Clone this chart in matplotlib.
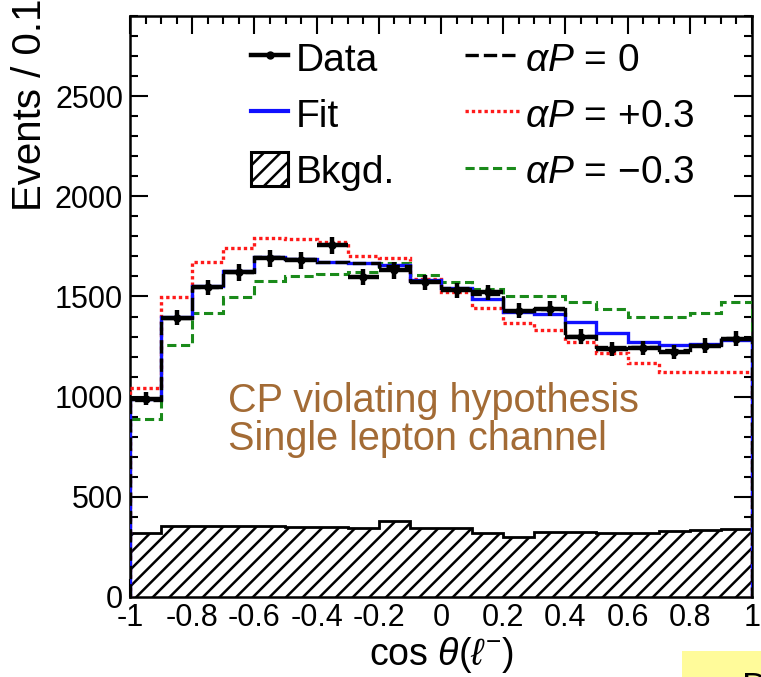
import numpy as np
import matplotlib
matplotlib.use("Agg")
import matplotlib.pyplot as plt
from matplotlib.lines import Line2D
from matplotlib.patches import Patch, Rectangle

plt.rcParams['font.family'] = ['Liberation Sans', 'DejaVu Sans']
plt.rcParams['mathtext.fontset'] = 'custom'
plt.rcParams['mathtext.rm'] = 'Liberation Sans'
plt.rcParams['mathtext.it'] = 'Liberation Sans:italic'
plt.rcParams['axes.unicode_minus'] = False
plt.rcParams['hatch.linewidth'] = 1.8

# ---- data (20 bins of width 0.1 in cos theta) ----
bin_edges = [-1.0, -0.9, -0.8, -0.7, -0.6, -0.5, -0.4, -0.3, -0.2, -0.1, 0.0,
             0.1, 0.2, 0.3, 0.4, 0.5, 0.6, 0.7, 0.8, 0.9, 1.0]
data = [990, 1395, 1545, 1620, 1690, 1680, 1755, 1595, 1630, 1570,
        1530, 1520, 1430, 1440, 1300, 1240, 1245, 1225, 1255, 1290]
fit = [990, 1400, 1550, 1625, 1695, 1685, 1670, 1665, 1655, 1580,
       1540, 1485, 1425, 1415, 1375, 1320, 1275, 1260, 1265, 1285]
alpha_p0 = [985, 1395, 1545, 1620, 1695, 1685, 1670, 1665, 1650, 1575,
            1540, 1510, 1430, 1440, 1305, 1250, 1250, 1235, 1260, 1295]
alpha_pp = [1045, 1495, 1670, 1740, 1790, 1785, 1770, 1700, 1690, 1585,
            1520, 1445, 1370, 1335, 1275, 1220, 1170, 1125, 1125, 1125]
alpha_pm = [890, 1260, 1420, 1495, 1575, 1600, 1610, 1620, 1665, 1605,
            1570, 1535, 1500, 1500, 1470, 1440, 1400, 1400, 1420, 1470]
bkgd = [320, 355, 355, 355, 352, 350, 350, 345, 380, 345,
        345, 320, 300, 325, 325, 320, 320, 330, 335, 340]

x_ticks = [-1, -0.8, -0.6, -0.4, -0.2, 0, 0.2, 0.4, 0.6, 0.8, 1]
x_ticklabels = ['-1', '-0.8', '-0.6', '-0.4', '-0.2', '0', '0.2', '0.4', '0.6', '0.8', '1']
y_ticks = [0, 500, 1000, 1500, 2000, 2500]

edges = np.array(bin_edges)
centers = 0.5 * (edges[:-1] + edges[1:])
halfw = 0.5 * np.diff(edges)
data_arr = np.array(data, dtype=float)
data_err = np.sqrt(data_arr)

fig = plt.figure(figsize=(7.61, 6.77), dpi=100)
ax = fig.add_axes([130 / 761, 80 / 677, 622 / 761, 581 / 677])

# background (hatched)
ax.stairs(bkgd, edges, fill=True, facecolor='white', edgecolor='black',
          hatch='//', linewidth=0, zorder=2)
ax.stairs(bkgd, edges, color='black', linewidth=2.0, zorder=3)

# hypotheses
ax.stairs(alpha_pm, edges, color='#1a8a1a', linestyle=(0, (3, 1.5)), linewidth=2.2, zorder=4)
ax.stairs(alpha_pp, edges, color='#ff1a1a', linestyle=(0, (1, 0.9)), linewidth=2.4, zorder=4)
ax.stairs(fit, edges, color='#1010ff', linewidth=2.4, zorder=5)
ax.stairs(alpha_p0, edges, color='black', linestyle=(0, (4, 1.5)), linewidth=2.4, zorder=6)

# data
ax.errorbar(centers, data_arr, xerr=halfw, yerr=data_err, fmt='o', color='black',
            markersize=5, elinewidth=3.2, capsize=0, zorder=7)

ax.set_xlim(-1, 1)
ax.set_ylim(0, 2900)
ax.set_xticks(x_ticks)
ax.set_xticklabels(x_ticklabels)
ax.set_yticks(y_ticks)
ax.set_xticks(np.arange(-1, 1.0001, 0.05), minor=True)
ax.set_yticks(np.arange(0, 2901, 100), minor=True)
ax.tick_params(which='both', direction='in', top=True, right=True, width=1.5,
               labelsize=22, colors='black')
ax.tick_params(which='major', length=13, pad=5)
ax.tick_params(axis='x', which='major', pad=4)
ax.tick_params(which='minor', length=6)
for sp in ax.spines.values():
    sp.set_linewidth(1.8)

ax.set_xlabel(r'cos $\theta(\ell^{-})$', fontsize=27, labelpad=2)
ax.set_ylabel('Events / 0.1', fontsize=29, loc='top', labelpad=4)
ax.yaxis.set_label_coords(-0.16, 1.03, transform=ax.transAxes)
ax.yaxis.label.set_verticalalignment('center')

# legends
h_data = Line2D([], [], color='black', linewidth=3.2, marker='o', markersize=5)
h_fit = Line2D([], [], color='#1010ff', linewidth=3)
h_bkg = Patch(facecolor='white', edgecolor='black', hatch='//', linewidth=2.2)
leg1 = ax.legend([h_data, h_fit, h_bkg], ['Data', 'Fit', 'Bkgd.'],
                 loc='upper left', bbox_to_anchor=(0.195, 0.958), frameon=False,
                 fontsize=28, handlelength=0.95, handleheight=0.95, handletextpad=0.2,
                 labelspacing=0.46, borderaxespad=0, borderpad=0)
ax.add_artist(leg1)
h0 = Line2D([], [], color='black', linestyle=(0, (4, 1.5)), linewidth=2.4)
hp = Line2D([], [], color='#ff1a1a', linestyle=(0, (1, 0.9)), linewidth=2.4)
hm = Line2D([], [], color='#1a8a1a', linestyle=(0, (3, 1.5)), linewidth=2.2)
leg2 = ax.legend([h0, hp, hm],
                 [r'$\alpha P$ = 0', r'$\alpha P$ = +0.3', r'$\alpha P$ = $-$0.3'],
                 loc='upper left', bbox_to_anchor=(0.538, 0.958), frameon=False,
                 fontsize=28, handlelength=1.4, handleheight=0.95, handletextpad=0.15,
                 labelspacing=0.46, borderaxespad=0, borderpad=0)

ax.text(0.157, 0.305, 'CP violating hypothesis\nSingle lepton channel',
        transform=ax.transAxes, fontsize=28.5, color='#a36b35',
        va='center', ha='left', linespacing=1.0)

# crop artefact at lower right
fig.patches.append(Rectangle((682 / 761, 0), 79 / 761, 26 / 677,
                             transform=fig.transFigure, facecolor='#fffb9a',
                             edgecolor='none', zorder=0))
fig.text(742 / 761, 5 / 677, 'D', fontsize=26, color='black', va='top', ha='left')

fig.savefig('out.png', dpi=100)
